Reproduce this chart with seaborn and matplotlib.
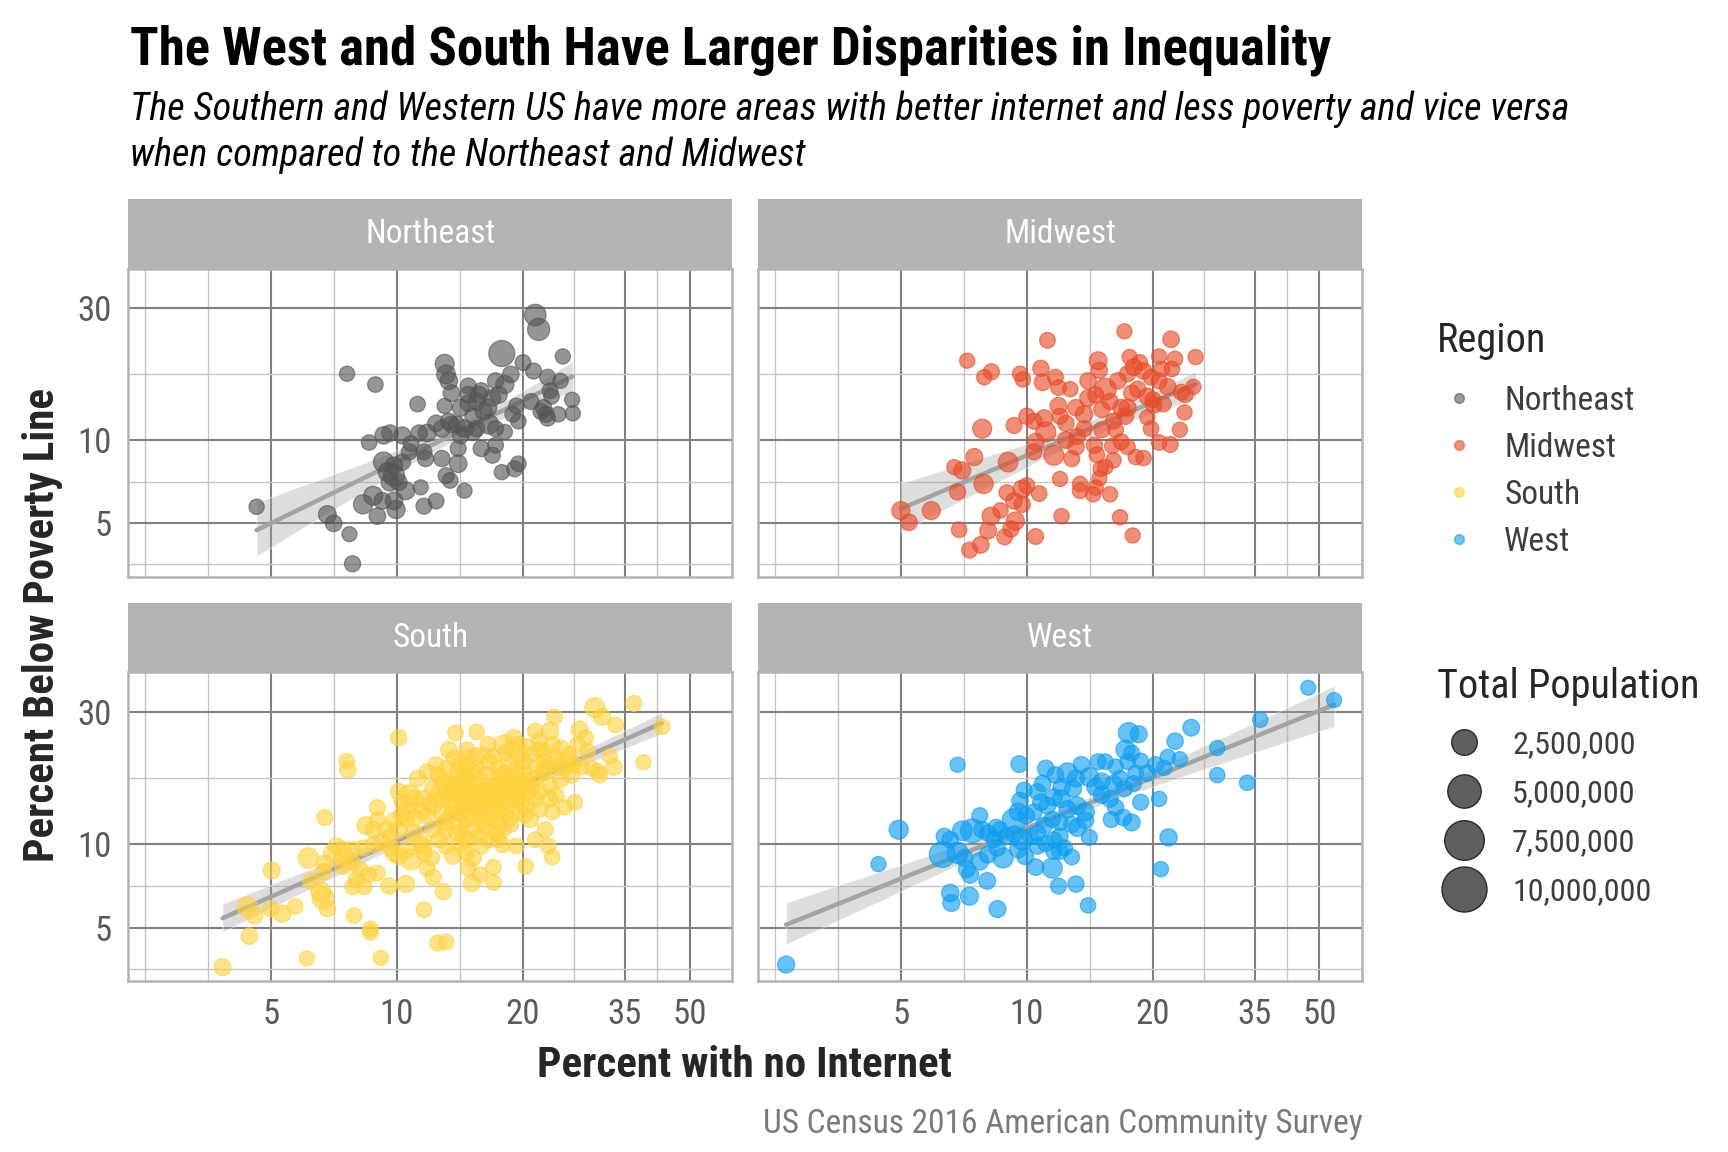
import numpy as np
import pandas as pd
import matplotlib as mpl
mpl.use("Agg")
import matplotlib.pyplot as plt
from matplotlib import font_manager
from matplotlib.lines import Line2D
import seaborn as sns

# values (percent no internet, percent below poverty, population in thousands)
ne_internet = [4.62, 7.6, 8.88, 11.2, 6.82, 7.06, 7.70, 7.83, 8.58, 9.29, 9.62, 9.29, 9.84, 9.62, 8.30, 8.77, 9.23, 9.95, 10.5, 10.8,
               11.6, 11.6, 12.4, 11.4, 11.7, 12.4, 11.8, 12.8, 13.1, 13.4, 14.0, 14.0, 14.5, 13.0, 13.1, 13.3, 13.5, 13.0, 14.8, 14.8,
               14.2, 13.9, 14.5, 15.2, 15.9, 15.5, 16.1, 16.6, 15.9, 16.9, 17.2, 17.8, 18.7, 18.1, 17.5, 16.9, 18.1, 17.8, 19.1, 19.5,
               19.3, 18.9, 19.5, 20.0, 21.2, 21.4, 21.8, 20.9, 22.4, 22.7, 22.9, 23.2, 23.4, 24.3, 24.6, 24.9, 26.2, 26.3, 22.9, 22.1,
               10.3, 11.3, 12.8, 13.5, 15.2, 16.5, 17.2, 15.5, 14.2, 13.3, 9.84, 10.3, 9.51, 10.7, 10.1, 8.98, 9.84, 17.2, 15.7, 14.8]
ne_poverty = [5.73, 17.4, 15.9, 13.5, 5.37, 4.99, 4.56, 3.56, 9.80, 10.4, 10.6, 8.32, 7.43, 7.03, 5.85, 6.28, 6.02, 5.60, 6.55, 9.72,
              9.06, 5.76, 6.01, 6.74, 8.57, 11.5, 10.6, 8.57, 7.43, 7.14, 8.21, 9.32, 6.55, 18.9, 17.3, 16.4, 14.8, 13.3, 15.7, 14.6,
              13.1, 11.4, 11.0, 10.7, 15.1, 13.8, 12.7, 11.4, 9.32, 8.81, 9.58, 20.6, 17.3, 15.9, 14.6, 14.2, 10.7, 7.65, 7.87, 8.21,
              13.3, 12.4, 11.7, 19.1, 17.8, 28.4, 25.2, 13.8, 13.1, 12.4, 16.9, 15.1, 14.4, 12.4, 16.4, 20.1, 14.0, 12.5, 12.0, 12.7,
              10.4, 10.6, 11.0, 11.4, 12.2, 13.1, 11.0, 11.0, 10.4, 11.7, 8.09, 8.32, 7.65, 9.06, 7.03, 5.30, 6.02, 16.4, 14.6, 13.6]
ne_pop = [180, 170, 230, 230, 650, 420, 150, 330, 220, 560, 400, 1150, 1350, 600, 950, 900, 450, 700, 650, 250,
          300, 310, 280, 140, 330, 420, 650, 380, 300, 260, 620, 300, 150, 900, 850, 600, 450, 170, 320, 420,
          500, 380, 600, 520, 330, 560, 480, 950, 360, 300, 280, 2600, 420, 700, 500, 450, 160, 170, 320, 220,
          240, 260, 200, 280, 300, 1450, 1600, 290, 380, 320, 300, 250, 230, 200, 160, 170, 150, 160, 260, 350,
          480, 400, 500, 450, 400, 550, 300, 350, 420, 380, 500, 380, 900, 300, 420, 400, 600, 350, 450, 380]

mw_internet = [17.1, 11.2, 22.1, 7.20, 8.23, 7.91, 9.63, 9.78, 10.8, 10.9, 11.7, 11.9, 12.7, 14.0, 14.8, 14.9, 15.4, 14.6, 15.8, 15.1,
               16.5, 17.6, 18.0, 18.6, 17.4, 19.0, 19.8, 20.7, 21.0, 22.6, 25.3, 22.2, 21.7, 23.4, 23.9, 25.0, 23.8, 23.2, 19.4, 20.1,
               21.2, 19.4, 19.8, 20.7, 22.0, 18.2, 19.0, 17.4, 16.8, 16.0, 16.3, 15.1, 17.2, 17.4, 16.1, 14.5, 14.7, 16.1, 15.4, 15.0,
               14.9, 14.6, 14.4, 15.8, 16.7, 17.9, 13.4, 13.4, 12.1, 12.0, 12.8, 13.1, 12.4, 11.6, 11.1, 10.5, 10.4, 11.0, 11.9, 12.0,
               12.4, 13.1, 13.7, 13.7, 13.2, 14.0, 10.0, 10.4, 9.32, 7.82, 7.49, 7.01, 6.71, 9.02, 7.88, 6.83, 5.91, 5.0, 5.23, 6.89,
               7.30, 7.76, 8.08, 8.21, 8.65, 8.96, 9.32, 9.74, 9.74, 9.38, 9.16, 8.85, 10.5, 10.7, 10.0, 16.8, 17.8, 18.4, 20.7, 20.0]
mw_poverty = [24.8, 23.0, 23.2, 19.4, 17.7, 16.9, 17.4, 16.6, 18.2, 16.2, 16.9, 15.5, 15.3, 16.4, 19.4, 17.9, 15.3, 14.6, 13.8, 12.9,
              16.4, 20.0, 18.4, 19.1, 17.4, 17.8, 16.9, 20.1, 18.1, 19.7, 20.0, 18.1, 15.6, 14.9, 14.6, 15.6, 12.6, 10.9, 14.4, 13.4,
              13.5, 12.1, 11.0, 9.80, 9.64, 8.68, 8.61, 9.45, 9.86, 9.53, 10.9, 10.9, 12.2, 13.1, 11.7, 9.58, 8.85, 8.44, 7.98, 7.87,
              7.27, 6.73, 6.36, 6.36, 5.25, 4.51, 6.93, 6.55, 5.30, 7.23, 8.56, 9.45, 10.0, 8.81, 10.7, 9.86, 9.06, 12.0, 13.3, 12.2,
              11.5, 13.1, 12.4, 11.0, 10.3, 14.2, 12.2, 11.7, 11.3, 11.0, 8.68, 7.76, 7.98, 8.32, 6.93, 6.49, 5.55, 5.55, 5.03, 4.73,
              3.99, 4.17, 4.69, 5.30, 5.56, 6.45, 6.02, 5.85, 6.64, 5.08, 4.76, 4.45, 4.47, 6.40, 6.83, 13.1, 14.8, 15.3, 16.4, 14.0]
mw_pop = [160, 250, 400, 170, 300, 200, 180, 220, 350, 420, 280, 240, 200, 380, 650, 350, 1500, 300, 400, 350,
          420, 200, 450, 300, 350, 400, 300, 180, 250, 200, 170, 230, 420, 300, 250, 170, 180, 170, 450, 380,
          250, 180, 230, 220, 300, 200, 200, 220, 300, 230, 250, 300, 350, 500, 280, 350, 250, 220, 200, 170,
          160, 200, 200, 200, 200, 170, 230, 260, 200, 170, 300, 400, 420, 1100, 1100, 450, 300, 500, 480, 300,
          350, 400, 550, 320, 300, 450, 350, 300, 300, 900, 500, 520, 160, 1000, 950, 330, 700, 700, 400, 250,
          300, 420, 450, 700, 200, 280, 400, 380, 700, 750, 350, 260, 280, 250, 300, 400, 380, 350, 300, 350]

so_internet = [3.83, 4.44, 6.09, 9.15, 12.5, 13.1, 8.64, 8.64, 7.90, 11.6, 5.71, 5.32, 5.0, 4.57, 4.39, 5.02, 6.14, 6.72, 7.58, 7.63,
               10.1, 13.8, 15.5, 23.8, 29.7, 30.9, 36.8, 33.3, 43.0, 38.8, 33.0, 30.5, 30.2, 28.5, 27.3, 28.2, 32.3, 26.6, 25.2, 23.5,
               23.5, 23.0, 22.6, 21.4, 20.3, 19.3, 17.9, 17.0, 17.0, 15.8, 15.1, 14.8, 15.2, 15.9, 14.4, 13.6, 12.9, 12.2, 11.8, 12.1,
               11.6, 10.5, 9.57, 10.8, 10.1, 10.6, 9.68, 10.1, 10.5, 10.7, 11.0, 11.2, 11.8, 12.4, 12.6, 13.3, 14.7, 14.6, 15.4, 16.6,
               18.0, 19.0, 18.9, 19.6, 21.4, 21.9, 23.2, 23.5, 24.6, 25.8, 27.0, 27.6, 26.1, 24.6, 23.2, 22.4, 21.4, 20.9, 20.0, 20.5,
               21.4, 21.9, 20.8, 19.6, 19.2, 18.8, 18.0, 17.5, 17.2, 17.7, 18.5, 17.9, 17.2, 16.4, 15.8, 16.4, 16.1, 15.8, 15.1, 14.4,
               13.9, 13.5, 14.1, 14.7, 15.2, 15.7, 14.7, 13.9, 13.1, 12.8, 12.2, 11.8, 12.2, 12.6, 11.6, 12.2, 13.1, 13.2, 14.1, 14.6,
               15.4, 16.4, 17.4, 18.5, 19.3, 20.0, 19.6, 18.8, 17.9, 17.0, 15.8, 15.2, 14.4, 14.4, 15.1, 15.4, 16.6, 17.9, 10.1, 10.3,
               9.84, 8.98, 8.77, 8.42, 8.98, 9.40, 9.62, 7.17, 7.42, 7.83, 8.30, 6.73, 7.42, 7.83, 8.17, 8.55, 8.98, 8.0, 8.35, 7.83,
               6.58, 6.66, 6.82, 6.23, 6.67, 11.0, 11.4, 11.6, 13.1, 14.1, 16.6, 17.5, 14.6, 20.0, 21.9, 24.0, 25.2, 26.4, 24.0, 22.4,
               29.2, 23.2, 18.9, 22.6,
               12.0, 12.5, 13.0, 13.5, 14.0, 14.5, 15.0, 15.5, 16.0, 16.5, 17.0, 17.5, 18.0, 18.5, 19.0, 19.5, 20.5, 21.0, 21.5, 22.5,
               23.5, 24.5, 25.5, 13.0, 13.5, 14.2, 15.0, 16.0, 16.8, 17.5, 18.2, 11.5, 11.0, 10.6, 10.3, 12.8, 13.8, 14.6, 15.6, 16.8,
               17.2, 19.8, 20.5, 20.2, 18.7, 14.0, 12.8, 13.7, 16.0, 17.0, 18.2, 19.5, 20.5, 22.0, 16.5, 9.2, 9.8, 8.8, 7.5, 7.0]
so_poverty = [3.60, 4.66, 3.87, 3.89, 4.40, 4.44, 4.95, 4.81, 5.53, 5.81, 5.97, 5.62, 5.86, 5.53, 5.94, 8.05, 8.93, 12.5, 20.0, 18.6,
              24.3, 25.3, 25.5, 28.9, 31.2, 28.9, 32.3, 27.0, 26.6, 19.8, 19.0, 17.8, 18.4, 21.7, 26.0, 24.3, 20.8, 14.2, 13.6, 13.1,
              9.0, 9.86, 11.3, 10.4, 8.33, 9.86, 9.94, 8.28, 7.28, 7.77, 7.24, 8.21, 8.93, 9.86, 10.7, 9.11, 6.75, 7.61, 8.21, 8.93,
              9.32, 7.19, 7.07, 8.81, 9.06, 9.64, 9.71, 11.3, 12.4, 15.0, 14.6, 17.3, 18.3, 19.4, 17.8, 22.0, 22.0, 20.5, 20.8, 19.9,
              22.9, 24.3, 22.0, 20.8, 25.7, 23.6, 25.7, 22.9, 22.3, 21.1, 22.9, 19.1, 17.8, 17.1, 16.4, 18.3, 17.3, 21.1, 18.3, 15.5,
              14.6, 13.4, 12.3, 13.1, 14.6, 16.4, 18.0, 16.4, 14.6, 13.4, 12.3, 11.3, 11.0, 11.7, 12.7, 13.8, 15.5, 17.1, 18.3, 16.8,
              15.5, 14.2, 13.1, 12.3, 11.3, 10.7, 10.4, 11.0, 11.3, 13.1, 13.8, 12.7, 11.3, 10.4, 14.6, 15.9, 16.4, 18.8, 19.4, 19.4,
              18.8, 17.8, 18.8, 19.4, 18.8, 19.9, 17.3, 14.6, 14.2, 13.1, 14.2, 15.0, 14.2, 15.0, 13.8, 16.4, 15.9, 15.5, 15.5, 14.2,
              12.2, 12.3, 11.3, 11.7, 13.6, 11.3, 10.7, 9.86, 9.58, 9.58, 9.71, 8.57, 8.33, 8.57, 8.10, 7.77, 7.88, 7.45, 7.03, 7.03,
              6.75, 6.38, 5.86, 7.35, 7.97, 11.0, 10.1, 9.86, 9.86, 10.0, 10.4, 10.4, 9.32, 16.4, 15.5, 15.0, 18.8, 19.4, 20.5, 21.7,
              18.8, 14.6, 15.5, 18.9,
              14.0, 15.0, 15.5, 16.0, 17.0, 17.5, 16.0, 15.0, 14.5, 15.0, 16.0, 17.5, 16.8, 17.5, 16.0, 15.0, 17.0, 16.0, 19.0, 20.0,
              19.5, 19.0, 20.5, 12.0, 12.8, 12.0, 12.7, 12.0, 12.5, 12.0, 13.0, 13.2, 12.5, 13.3, 12.8, 14.6, 13.6, 14.8, 13.3, 14.2,
              15.2, 14.0, 13.8, 12.8, 11.8, 18.2, 17.0, 20.5, 21.0, 20.8, 21.5, 23.0, 22.5, 22.0, 23.0, 10.2, 9.3, 10.0, 9.0, 9.3]
so_pop = [500, 420, 150, 180, 280, 220, 260, 240, 250, 250, 200, 550, 380, 400, 1100, 500, 1200, 320, 180, 360,
          360, 250, 230, 230, 1100, 500, 300, 250, 250, 180, 350, 250, 200, 250, 500, 250, 200, 200, 200, 250,
          200, 230, 300, 250, 220, 230, 220, 250, 250, 230, 500, 350, 380, 300, 350, 550, 350, 300, 250, 300,
          280, 550, 350, 1200, 450, 400, 350, 450, 400, 1500, 600, 350, 300, 300, 400, 400, 300, 350, 450, 350,
          1100, 400, 380, 320, 250, 300, 550, 400, 350, 300, 300, 280, 350, 300, 350, 400, 450, 300, 500, 450,
          350, 320, 400, 350, 450, 600, 500, 500, 450, 400, 350, 300, 350, 400, 450, 500, 700, 500, 450, 550,
          2000, 600, 500, 450, 400, 350, 380, 420, 450, 500, 550, 450, 400, 380, 600, 500, 800, 450, 400, 380,
          450, 600, 450, 400, 350, 300, 450, 400, 350, 400, 600, 900, 700, 800, 600, 700, 500, 450, 450, 400,
          350, 300, 350, 600, 280, 350, 300, 350, 300, 350, 300, 380, 300, 350, 300, 280, 250, 400, 300, 280,
          1100, 1500, 400, 300, 350, 500, 400, 350, 300, 350, 300, 280, 300, 500, 350, 300, 280, 250, 300, 300,
          250, 280, 400, 350,
          400, 450, 500, 400, 450, 500, 600, 450, 400, 500, 450, 400, 450, 380, 400, 350, 400, 350, 300, 300,
          280, 250, 280, 400, 380, 420, 400, 350, 380, 300, 350, 450, 500, 700, 450, 500, 450, 550, 420, 450,
          400, 350, 300, 300, 280, 450, 400, 350, 350, 300, 350, 300, 280, 300, 300, 400, 350, 300, 600, 500]

we_internet = [2.66, 4.42, 4.94, 6.83, 9.59, 47.0, 54.2, 36.1, 28.5, 28.5, 33.6, 24.7, 22.6, 23.2, 21.7, 21.3, 20.3, 20.7, 21.8, 20.9,
               17.5, 18.5, 17.2, 17.8, 18.7, 17.4, 18.2, 19.4, 18.7, 17.8, 17.0, 15.9, 16.3, 15.8, 15.1, 14.6, 14.8, 15.4, 16.3, 16.7,
               16.1, 17.1, 18.0, 15.1, 14.1, 13.5, 13.1, 12.5, 12.1, 12.9, 11.7, 11.1, 10.9, 10.6, 9.85, 9.63, 9.53, 9.32, 9.96, 10.4,
               10.8, 11.2, 11.6, 12.1, 12.5, 13.2, 13.8, 13.8, 13.2, 12.8, 12.0, 11.5, 11.0, 10.6, 10.2, 9.74, 9.53, 9.91, 10.6, 11.1,
               11.6, 12.0, 12.3, 12.0, 11.6, 12.8, 14.1, 11.5, 10.5, 11.9, 13.1, 14.0, 8.77, 8.50, 8.35, 8.63, 8.44, 8.07, 7.82, 7.72,
               7.41, 7.01, 6.56, 6.35, 6.28, 6.83, 7.09, 7.72, 8.07, 7.32, 7.19, 8.04, 6.56, 6.60, 7.29, 8.51, 9.32, 8.93]
we_poverty = [3.68, 8.49, 11.3, 19.4, 19.5, 36.8, 33.2, 28.2, 22.3, 17.8, 16.7, 26.4, 23.6, 20.3, 20.7, 18.9, 19.4, 14.6, 10.6, 8.14,
              25.3, 25.0, 22.0, 21.4, 20.0, 19.9, 18.1, 18.1, 14.2, 12.0, 12.5, 12.3, 13.6, 14.6, 15.1, 16.1, 19.9, 19.9, 19.1, 17.3,
              16.6, 15.9, 16.6, 16.9, 17.5, 19.4, 17.3, 18.1, 16.1, 15.9, 17.8, 18.8, 16.6, 15.5, 15.7, 14.4, 13.1, 12.2, 12.7, 13.1,
              14.2, 13.8, 14.8, 14.6, 13.4, 13.8, 13.1, 12.2, 11.5, 11.8, 12.0, 12.3, 11.7, 11.0, 10.7, 10.4, 9.59, 9.06, 9.86, 10.1,
              10.4, 10.7, 9.72, 9.45, 9.45, 9.0, 10.6, 8.21, 8.28, 7.07, 7.19, 6.02, 8.93, 9.72, 10.4, 11.3, 11.5, 11.0, 11.3, 12.7,
              11.2, 11.2, 10.4, 10.7, 9.19, 9.32, 8.93, 8.69, 9.19, 7.77, 8.14, 7.38, 6.68, 6.14, 6.50, 5.84, 10.9, 10.7]
we_pop = [500, 170, 900, 170, 450, 130, 160, 200, 180, 200, 230, 450, 380, 180, 180, 200, 320, 200, 550, 200,
          1200, 500, 900, 300, 300, 250, 250, 400, 320, 500, 400, 300, 350, 400, 500, 600, 300, 250, 200, 350,
          400, 350, 250, 450, 900, 400, 500, 1200, 500, 450, 400, 450, 400, 350, 300, 400, 600, 2000, 400, 350,
          400, 450, 500, 600, 500, 600, 700, 400, 600, 350, 300, 350, 400, 350, 400, 1200, 500, 450, 350, 400,
          300, 350, 300, 400, 300, 250, 300, 1100, 400, 300, 350, 200, 1100, 400, 350, 300, 400, 350, 400, 300,
          2000, 1000, 400, 350, 2600, 1400, 500, 600, 500, 500, 450, 450, 550, 500, 700, 500, 400, 350]

regions = ["Northeast", "Midwest", "South", "West"]
region_colors = ["#555555", "#E84A27", "#FFD23F", "#0D9DF0"]
x_breaks = [5, 10, 20, 35, 50]
y_breaks = [5, 10, 30]
x_minor = [2.5, 3.54, 7.07, 14.14, 26.46, 41.83]
y_minor = [3.54, 7.07, 17.32]
pop_breaks = [2500000, 5000000, 7500000, 10000000]
pop_labels = ["2,500,000", "5,000,000", "7,500,000", "10,000,000"]

sns.set_theme(style="white")
names = {f.name for f in font_manager.fontManager.ttflist}
narrow = next((n for n in ["Liberation Sans Narrow", "Roboto Condensed", "Open Sans Condensed",
                            "Noto Sans Condensed", "Roboto"] if n in names), "DejaVu Sans")
plt.rcParams["font.family"] = [narrow, "DejaVu Sans"]

frames = []
for reg, xs, ys, ps in zip(regions, [ne_internet, mw_internet, so_internet, we_internet],
                           [ne_poverty, mw_poverty, so_poverty, we_poverty], [ne_pop, mw_pop, so_pop, we_pop]):
    frames.append(pd.DataFrame({"region": reg, "internet": xs, "poverty": ys, "pop": ps}))
df = pd.concat(frames, ignore_index=True)
df["pop"] = df["pop"] * 1000
df["lx"] = np.log10(df["internet"])
df["ly"] = np.log10(df["poverty"])

fig = plt.figure(figsize=(17.28, 11.52), dpi=100)
W, H = 1550, 1033


def box(x0, y0, x1, y1):
    return [x0 / W, 1 - y1 / H, (x1 - x0) / W, (y1 - y0) / H]


panels = {"Northeast": (115, 178, 241, 657, 517), "Midwest": (680, 178, 241, 1222, 517),
          "South": (115, 541, 603, 657, 880), "West": (680, 541, 603, 1222, 880)}
s_lo, s_hi, p_lo, p_hi = 110, 1050, 65000, 10000000
tick_col = "#5a5a5a"

for reg, col in zip(regions, region_colors):
    x0, st, y0, x1, y1 = panels[reg]
    ax = fig.add_axes(box(x0, y0, x1, y1))
    sub = df[df["region"] == reg]
    sns.regplot(data=sub, x="lx", y="ly", scatter=False, color="#8c8c8c", seed=3,
                line_kws={"color": "#a3a3a3", "lw": 3.2, "zorder": 2}, ax=ax)
    ax.collections[-1].set_alpha(0.36)
    sns.scatterplot(data=sub, x="lx", y="ly", size="pop", sizes=(s_lo, s_hi), size_norm=(p_lo, p_hi),
                    color=col, alpha=0.62, edgecolor=col, linewidth=0.9, legend=False, zorder=3, ax=ax)

    ax.set_xlim(np.log10(2.28), np.log10(63.3))
    ax.set_ylim(np.log10(3.2), np.log10(41.8))
    ax.set_xticks(np.log10(x_breaks))
    ax.set_xticklabels([str(v) for v in x_breaks])
    ax.set_xticks(np.log10(x_minor), minor=True)
    ax.set_yticks(np.log10(y_breaks))
    ax.set_yticklabels([str(v) for v in y_breaks])
    ax.set_yticks(np.log10(y_minor), minor=True)
    ax.set_axisbelow(True)
    ax.grid(which="major", color="#808080", lw=1.5)
    ax.grid(which="minor", color="#c4c4c4", lw=1.0)
    ax.tick_params(which="minor", length=0)
    ax.tick_params(which="major", length=7, width=1.4, color="#b3b3b3", labelsize=25,
                   labelcolor=tick_col, pad=5)
    if reg in ("Northeast", "Midwest"):
        ax.tick_params(axis="x", which="major", length=0, labelbottom=False)
    if reg in ("Midwest", "West"):
        ax.tick_params(axis="y", which="major", length=0, labelleft=False)
    ax.set_xlabel("")
    ax.set_ylabel("")
    for sp in ax.spines.values():
        sp.set_visible(True)
        sp.set_color("#b3b3b3")
        sp.set_linewidth(1.8)

    sax = fig.add_axes(box(x0, st, x1, y0))
    sax.set_facecolor("#b3b3b3")
    sax.set_xticks([])
    sax.set_yticks([])
    for sp in sax.spines.values():
        sp.set_visible(False)
    sax.text(0.5, 0.5, reg, color="white", fontsize=24, ha="center", va="center", transform=sax.transAxes)

# titles and labels
fig.text(117 / W, 1 - 58 / H, "The West and South Have Larger Disparities in Inequality",
         fontsize=38, fontweight="bold", color="black", ha="left", va="baseline")
fig.text(117 / W, 1 - 108 / H, "The Southern and Western US have more areas with better internet and less poverty and vice versa",
         fontsize=27.5, style="italic", color="black", ha="left", va="baseline")
fig.text(117 / W, 1 - 149 / H, "when compared to the Northeast and Midwest",
         fontsize=27.5, style="italic", color="black", ha="left", va="baseline")
fig.text(668 / W, 1 - 955 / H, "Percent with no Internet", fontsize=31, fontweight="bold",
         ha="center", va="center")
fig.text(38 / W, 1 - 560 / H, "Percent Below Poverty Line", fontsize=31, fontweight="bold",
         ha="center", va="center", rotation=90)
fig.text(1222 / W, 1 - 1008 / H, "US Census 2016 American Community Survey", fontsize=24,
         color="#7a7a7a", ha="right", va="center")

# legends
fig.text(1289 / W, 1 - 305 / H, "Region", fontsize=29, ha="left", va="center")
reg_handles = [Line2D([], [], ls="", marker="o", markersize=7, markerfacecolor=c, markeredgecolor=c, alpha=0.6)
               for c in region_colors]
fig.legend(reg_handles, regions, loc="upper left", bbox_to_anchor=(1294 / W, 1 - 345 / H), frameon=False,
           fontsize=24, labelcolor="#3d3d3d", handlelength=1.0, handletextpad=0.85, labelspacing=0.45,
           borderpad=0, borderaxespad=0)

fig.text(1289 / W, 1 - 616 / H, "Total Population", fontsize=29, ha="left", va="center")
size_handles = []
for p in pop_breaks:
    area = s_lo + (s_hi - s_lo) * (p - p_lo) / (p_hi - p_lo)
    size_handles.append(Line2D([], [], ls="", marker="o", markersize=np.sqrt(area),
                               markerfacecolor="#5e5e5e", markeredgecolor="#2b2b2b", markeredgewidth=1))
fig.legend(size_handles, pop_labels, loc="upper left", bbox_to_anchor=(1299 / W, 1 - 655 / H), frameon=False,
           fontsize=23, labelcolor="#3d3d3d", handlelength=1.0, handletextpad=1.0, labelspacing=0.62,
           borderpad=0, borderaxespad=0)

fig.savefig("out.png", dpi=100)
